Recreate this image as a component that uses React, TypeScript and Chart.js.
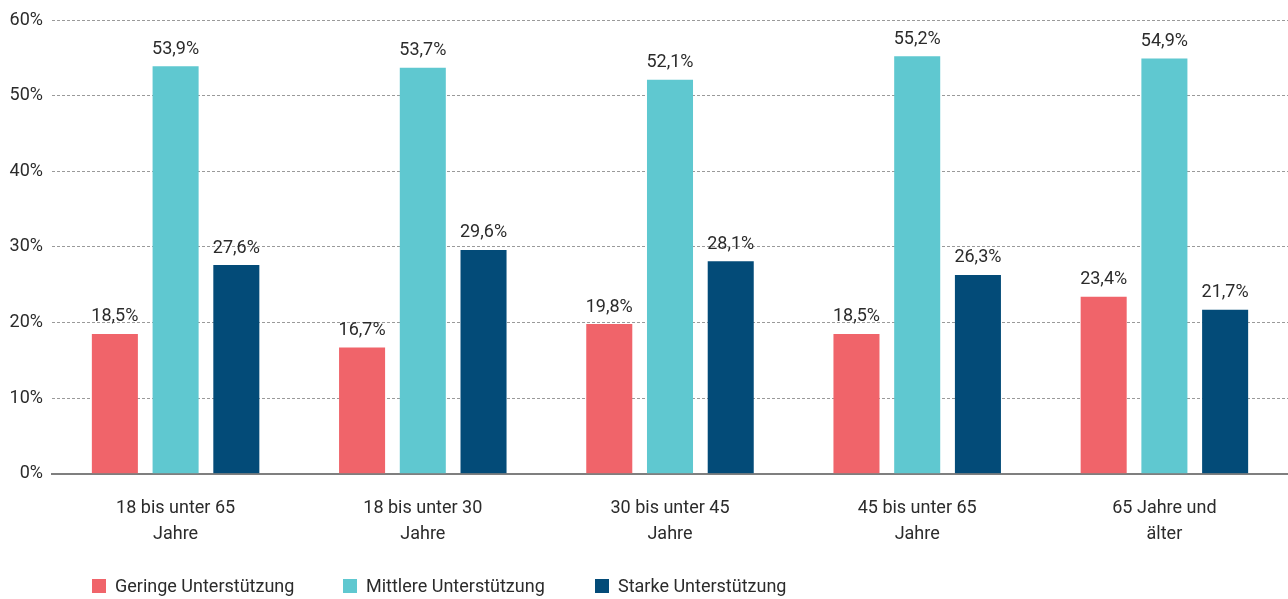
import React, { useEffect, useRef } from "react";
import { Chart, registerables } from "chart.js";

Chart.register(...registerables);

const categories: string[][] = [
  ["18 bis unter 65", "Jahre"],
  ["18 bis unter 30", "Jahre"],
  ["30 bis unter 45", "Jahre"],
  ["45 bis unter 65", "Jahre"],
  ["65 Jahre und", "älter"],
];
const seriesNames = ["Geringe Unterstützung", "Mittlere Unterstützung", "Starke Unterstützung"];
const geringe = [18.5, 16.7, 19.8, 18.5, 23.4];
const mittlere = [53.9, 53.7, 52.1, 55.2, 54.9];
const starke = [27.6, 29.6, 28.1, 26.3, 21.7];
const colors = ["#F0646A", "#5FC8D0", "#034B78"];
const yTicks = [0, 10, 20, 30, 40, 50, 60];

const FONT = "'Roboto', 'Noto Sans', sans-serif";
const TEXT = "#2b2b2b";

const fmt = (v: number) => v.toFixed(1).replace(".", ",") + "%";

const valueLabels = {
  id: "valueLabels",
  afterDatasetsDraw(chart: any) {
    const ctx = chart.ctx;
    ctx.save();
    ctx.font = `18px ${FONT}`;
    ctx.fillStyle = TEXT;
    ctx.textAlign = "center";
    ctx.textBaseline = "bottom";
    chart.data.datasets.forEach((ds: any, i: number) => {
      const meta = chart.getDatasetMeta(i);
      meta.data.forEach((bar: any, j: number) => {
        ctx.fillText(fmt(ds.data[j]), bar.x, bar.y - 8);
      });
    });
    ctx.restore();
  },
};

export default function App() {
  const ref = useRef<HTMLCanvasElement | null>(null);
  useEffect(() => {
    document.body.style.margin = "0";
    const data = [geringe, mittlere, starke];
    const chart = new Chart(ref.current as HTMLCanvasElement, {
      type: "bar",
      data: {
        labels: categories as any,
        datasets: seriesNames.map((n, i) => ({
          label: n,
          data: data[i],
          backgroundColor: colors[i],
          borderWidth: 0,
          categoryPercentage: 0.737,
          barPercentage: 0.758,
        })),
      },
      options: {
        animation: false,
        responsive: false,
        maintainAspectRatio: false,
        layout: { padding: { top: 20, right: 0, left: 0, bottom: 29 } },
        plugins: {
          legend: { display: false },
          tooltip: { enabled: false },
        },
        scales: {
          x: {
            grid: { display: false, drawTicks: false },
            border: { display: true, color: "#7f7f7f", width: 2 },
            ticks: {
              padding: 22,
              color: TEXT,
              font: { family: FONT, size: 18, lineHeight: 1.45 },
              maxRotation: 0,
              autoSkip: false,
            },
          },
          y: {
            min: 0,
            max: 60,
            afterFit: (s: any) => {
              s.width = 52;
            },
            afterBuildTicks: (s: any) => {
              s.ticks = yTicks.map((v) => ({ value: v }));
            },
            border: { display: false, dash: [3, 2] },
            grid: {
              drawTicks: false,
              color: (c: any) => (c.tick && c.tick.value === 0 ? "rgba(0,0,0,0)" : "#9a9a9a"),
              lineWidth: 1,
            },
            ticks: {
              padding: 9,
              color: TEXT,
              font: { family: FONT, size: 18 },
              callback: (v: any) => v + "%",
            },
          },
        },
      },
      plugins: [valueLabels],
    });
    return () => chart.destroy();
  }, []);

  const legendLeft = [92, 343, 595];
  return (
    <div style={{ position: "relative", width: 1288, height: 599, fontFamily: FONT }}>
      <canvas ref={ref} width={1288} height={599} style={{ position: "absolute", left: 0, top: 0 }} />
      {seriesNames.map((n, i) => (
        <div
          key={n}
          style={{
            position: "absolute",
            left: legendLeft[i],
            top: 575,
            display: "flex",
            alignItems: "center",
            fontSize: 18,
            color: TEXT,
            lineHeight: "22px",
            whiteSpace: "nowrap",
          }}
        >
          <span style={{ display: "inline-block", width: 14, height: 14, background: colors[i], marginRight: 9 }} />
          {n}
        </div>
      ))}
    </div>
  );
}
